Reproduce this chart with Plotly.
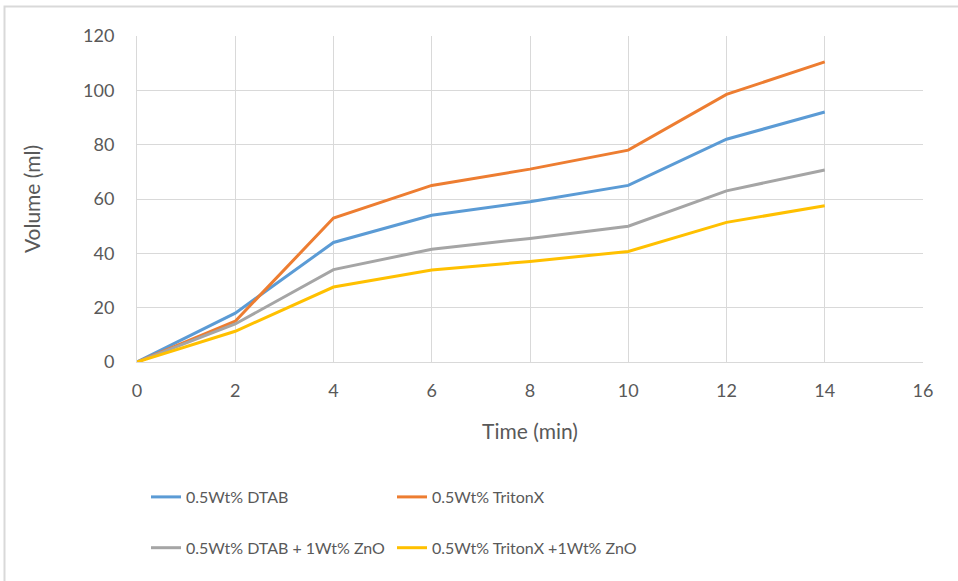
import plotly.graph_objects as go

# Time points (min)
time_min = [0, 2, 4, 6, 8, 10, 12, 14]

# Collected volume (ml) for each formulation
dtab = [0, 18, 44, 54, 59, 65, 82, 92]
tritonx = [0, 15, 53, 65, 71, 78, 98.5, 110.5]
dtab_zno = [0, 14, 34, 41.5, 45.5, 50, 63, 70.7]
tritonx_zno = [0, 11.3, 27.6, 33.9, 37, 40.7, 51.4, 57.5]

series_names = [
    "0.5Wt% DTAB",
    "0.5Wt% TritonX",
    "0.5Wt% DTAB + 1Wt% ZnO",
    "0.5Wt% TritonX +1Wt% ZnO",
]
series_values = [dtab, tritonx, dtab_zno, tritonx_zno]
colors = ["#5B9BD5", "#ED7D31", "#A5A5A5", "#FFC000"]
legend_ids = ["legend", "legend2", "legend", "legend2"]

FONT = "Lato, Roboto, sans-serif"
TEXT = "#595959"
GRID = "#D9D9D9"

fig = go.Figure()
for name, vals, col, lg in zip(series_names, series_values, colors, legend_ids):
    fig.add_trace(go.Scatter(
        x=time_min, y=vals, name=name, mode="lines",
        line=dict(color=col, width=3),
        legend=lg, legendgroup=name,
    ))

W, H = 958, 581
L, R, T, B = 137, 35, 36, 219
pw, ph = W - L - R, H - T - B


def px_x(p):
    return (p - L) / pw


def px_y(p):
    return (H - B - p) / ph


legend_common = dict(
    orientation="v", xanchor="left", yanchor="top",
    font=dict(family=FONT, size=16, color=TEXT),
    bgcolor="rgba(0,0,0,0)", tracegroupgap=27,
    itemwidth=30,
)

fig.update_layout(
    width=W, height=H,
    margin=dict(l=L, r=R, t=T, b=B, autoexpand=False),
    paper_bgcolor="white", plot_bgcolor="white",
    font=dict(family=FONT, size=18, color=TEXT),
    xaxis=dict(
        range=[0, 16], dtick=2, tick0=0, automargin=False,
        showgrid=True, gridcolor=GRID, gridwidth=1,
        showline=True, linecolor=GRID, linewidth=1,
        zeroline=False, ticks="", ticklabelstandoff=12,
        tickfont=dict(family=FONT, size=18, color=TEXT),
        title=dict(text="Time (min)", font=dict(family=FONT, size=21, color=TEXT), standoff=24),
    ),
    yaxis=dict(
        range=[0, 120], dtick=20, tick0=0, automargin=False,
        showgrid=True, gridcolor=GRID, gridwidth=1,
        showline=True, linecolor=GRID, linewidth=1,
        zeroline=False, ticks="", ticklabelstandoff=18,
        tickfont=dict(family=FONT, size=18, color=TEXT),
        title=dict(text="Volume (ml)", font=dict(family=FONT, size=21, color=TEXT), standoff=36),
    ),
    legend=dict(x=px_x(146), y=px_y(480), **legend_common),
    legend2=dict(x=px_x(392), y=px_y(480), **legend_common),
    shapes=[dict(
        type="rect", xref="paper", yref="paper",
        x0=px_x(4.5), x1=px_x(975), y0=px_y(600), y1=px_y(6.5),
        line=dict(color=GRID, width=2), fillcolor="rgba(0,0,0,0)", layer="below",
    )],
)

fig.write_html("out.html")
